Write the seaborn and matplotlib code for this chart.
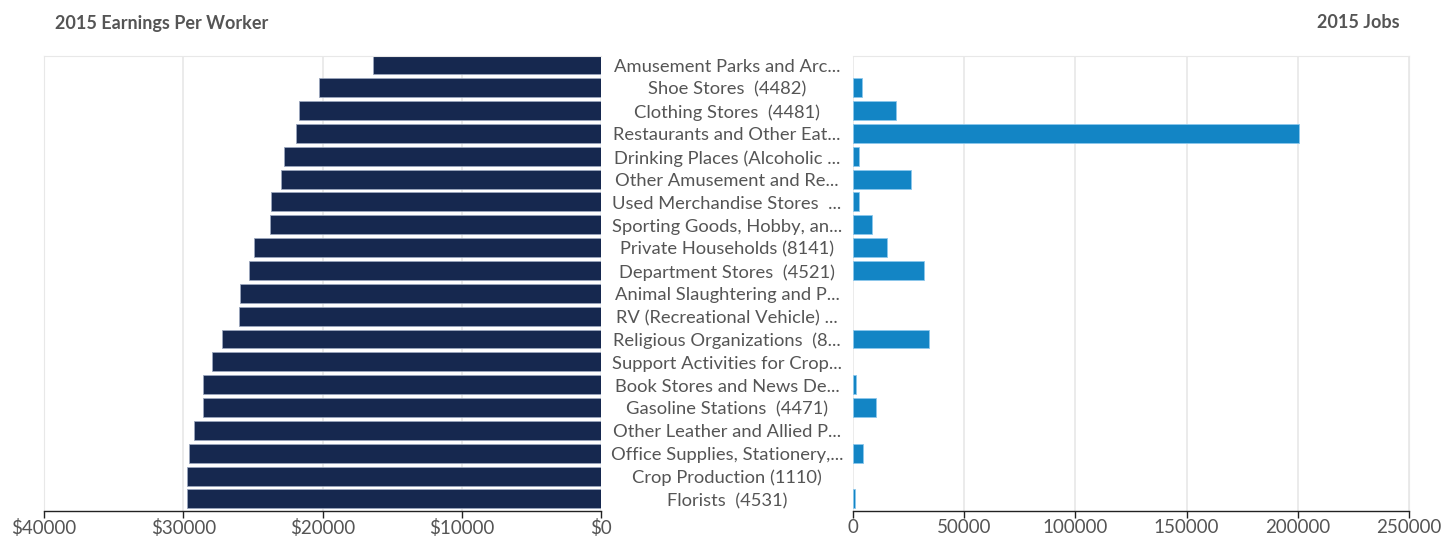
import matplotlib
matplotlib.use("Agg")
import matplotlib.pyplot as plt
import seaborn as sns
import pandas as pd
from matplotlib.ticker import FuncFormatter
from matplotlib.transforms import blended_transform_factory, offset_copy

# Industry labels (top to bottom)
industries = [
    "Amusement Parks and Arc...",
    "Shoe Stores  (4482)",
    "Clothing Stores  (4481)",
    "Restaurants and Other Eat...",
    "Drinking Places (Alcoholic ...",
    "Other Amusement and Re...",
    "Used Merchandise Stores  ...",
    "Sporting Goods, Hobby, an...",
    "Private Households (8141)",
    "Department Stores  (4521)",
    "Animal Slaughtering and P...",
    "RV (Recreational Vehicle) ...",
    "Religious Organizations  (8...",
    "Support Activities for Crop...",
    "Book Stores and News De...",
    "Gasoline Stations  (4471)",
    "Other Leather and Allied P...",
    "Office Supplies, Stationery,...",
    "Crop Production (1110)",
    "Florists  (4531)",
]

# 2015 earnings per worker ($)
earnings = [16400, 20250, 21700, 21900, 22800, 23000, 23700, 23800, 24900, 25300,
            25900, 26000, 27200, 27900, 28600, 28600, 29200, 29600, 29700, 29700]

# 2015 jobs
jobs = [0, 4000, 19300, 200500, 2700, 26000, 2700, 8600, 15300, 31900,
        0, 0, 34200, 0, 1300, 10200, 0, 4500, 0, 800]

df = pd.DataFrame({"industry": industries, "earnings": earnings, "jobs": jobs})

sns.set_style("white")
plt.rcParams["font.family"] = ["Lato", "DejaVu Sans"]

W, H = 1446, 537
fig = plt.figure(figsize=(W / 100, H / 100), dpi=100)

top, bottom = 56, 511
ax_l = fig.add_axes([44 / W, (H - bottom) / H, 557 / W, (bottom - top) / H])
ax_r = fig.add_axes([853 / W, (H - bottom) / H, 556 / W, (bottom - top) / H])

navy = "#16284f"
blue = "#1385c5"
grid_c = "#e8e8e8"
text_c = "#555555"

sns.barplot(data=df, y="industry", x="earnings", orient="h", color=navy,
            width=0.83, edgecolor="#9aa6bd", linewidth=0.6, saturation=1, ax=ax_l)
sns.barplot(data=df, y="industry", x="jobs", orient="h", color=blue,
            width=0.83, edgecolor="#8cc8ec", linewidth=0.6, saturation=1, ax=ax_r)

# no outline on empty bars
for p in ax_r.patches:
    if p.get_width() == 0:
        p.set_linewidth(0)

for ax in (ax_l, ax_r):
    ax.set_ylim(19.53, -0.39)
    ax.set_yticks([])
    ax.set_xlabel("")
    ax.set_ylabel("")
    ax.set_axisbelow(True)
    ax.grid(axis="x", color=grid_c, linewidth=1.2)
    ax.tick_params(axis="x", bottom=True, length=5, width=1, color="#222222",
                   labelsize=13.5, labelcolor=text_c, pad=1)
    ax.spines["bottom"].set_color("#222222")
    ax.spines["bottom"].set_linewidth(1)
    for s in ("top", "left", "right"):
        ax.spines[s].set_color(grid_c)

ax_l.set_xlim(40000, 0)
ax_l.set_xticks([40000, 30000, 20000, 10000, 0])
ax_l.xaxis.set_major_formatter(FuncFormatter(lambda v, p: f"${int(v)}"))
ax_l.spines["right"].set_visible(False)

ax_r.set_xlim(0, 250000)
ax_r.set_xticks([0, 50000, 100000, 150000, 200000, 250000])
ax_r.xaxis.set_major_formatter(FuncFormatter(lambda v, p: f"{int(v)}"))
ax_r.spines["left"].set_visible(False)

# category labels centred in the gap between the two panels
trans = blended_transform_factory(fig.transFigure, ax_l.transData)
trans = offset_copy(trans, fig=fig, y=-2, units="dots")
for i, name in enumerate(industries):
    ax_l.text(727 / W, i, name, transform=trans, ha="center", va="center",
              fontsize=13.2, color=text_c, clip_on=False)

fig.text(55 / W, 1 - 23 / H, "2015 Earnings Per Worker", ha="left", va="center",
         fontsize=13, fontweight="bold", color=text_c)
fig.text(1400 / W, 1 - 23 / H, "2015 Jobs", ha="right", va="center",
         fontsize=13, fontweight="bold", color=text_c)

fig.savefig("out.png", dpi=100)
